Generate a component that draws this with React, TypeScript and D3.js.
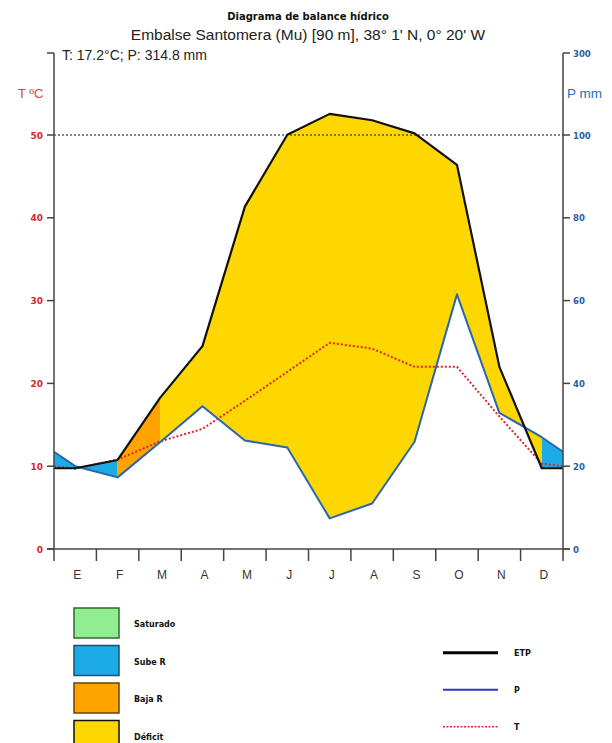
import React from "react";
import * as d3 from "d3";

const months = ["E", "F", "M", "A", "M", "J", "J", "A", "S", "O", "N", "D"];
const etp = [19.5, 21.5, 36.5, 49.0, 82.7, 100.5, 151.5, 136.0, 104.0, 92.8, 44.0, 19.5];
const precip = [20.0, 17.3, 25.8, 34.5, 26.2, 24.5, 7.4, 11.0, 25.9, 61.5, 32.9, 27.0];
const temp = [9.7, 10.8, 13.0, 14.5, 17.9, 21.4, 24.9, 24.2, 22.0, 22.0, 16.0, 10.3];
const monthStatus = [
  "Sube R", "Baja R", "Déficit", "Déficit", "Déficit", "Déficit",
  "Déficit", "Déficit", "Déficit", "Déficit", "Déficit", "Sube R",
];
const tempTicks = [0, 10, 20, 30, 40, 50];
const precipTicks = [0, 20, 40, 60, 80, 100, 300];
const legendAreas = ["Saturado", "Sube R", "Baja R", "Déficit"];
const legendLines = ["ETP", "P", "T"];

const areaColors: Record<string, string> = {
  Saturado: "#90EE90",
  "Sube R": "#1BACE8",
  "Baja R": "#FFA300",
  "Déficit": "#FFD700",
};
const areaBorders: Record<string, string> = {
  Saturado: "#2E6B2E",
  "Sube R": "#1B4F7A",
  "Baja R": "#6B4300",
  "Déficit": "#111",
};

const L = 54, R = 563, B = 549, TOP = 53;

export default function App() {
  const x = d3.scaleLinear().domain([0, 12]).range([L, R]);
  const yP = d3.scaleLinear().domain([0, 100, 300]).range([B, 135, TOP]);
  const yT = d3.scaleLinear().domain([0, 50]).range([B, 135]);

  const avg = (a: number[]) => (a[11] + a[0]) / 2;
  const pts = [
    { x: x(0), e: avg(etp), p: avg(precip), t: avg(temp) },
    ...months.map((_, i) => ({ x: x(i + 0.5), e: etp[i], p: precip[i], t: temp[i] })),
    { x: x(12), e: avg(etp), p: avg(precip), t: avg(temp) },
  ];
  type Pt = (typeof pts)[number];

  const area = d3
    .area<Pt>()
    .x((d) => d.x)
    .y0((d) => yP(d.p))
    .y1((d) => yP(d.e));
  const lineE = d3.line<Pt>().x((d) => d.x).y((d) => yP(d.e));
  const lineP = d3.line<Pt>().x((d) => d.x).y((d) => yP(d.p));
  const lineT = d3.line<Pt>().x((d) => d.x).y((d) => yT(d.t));

  // group consecutive segments with the same status into one area
  const runs: { start: number; end: number; status: string }[] = [];
  for (let k = 0; k < pts.length - 1; k++) {
    const st = monthStatus[(k - 1 + 12) % 12];
    const last = runs[runs.length - 1];
    if (last && last.status === st) last.end = k + 1;
    else runs.push({ start: k, end: k + 1, status: st });
  }

  const axisColor = "#444";
  const red = "#D8262A";
  const blue = "#1F5FA8";
  const small = { fontFamily: "DejaVu Sans", fontWeight: "bold" as const };

  return (
    <svg width={612} height={743} style={{ position: "absolute", left: 0, top: 0 }}>
      <rect width={612} height={743} fill="#fff" />
      {/* titles */}
      <text x={308} y={20} textAnchor="middle" fontSize={10} {...small} fill="#111">
        Diagrama de balance hídrico
      </text>
      <text x={308} y={40} textAnchor="middle" fontSize={15.5} fontFamily="Liberation Sans" fill="#222">
        Embalse Santomera (Mu) [90 m], 38° 1' N, 0° 20' W
      </text>
      <text x={62} y={59.5} fontSize={14} fontFamily="Liberation Sans" fill="#222">
        T: 17.2°C; P: 314.8 mm
      </text>
      <text x={18} y={98} fontSize={13} fontFamily="Liberation Sans" fill="#E04040">
        T ºC
      </text>
      <text x={567} y={98} fontSize={13.5} fontFamily="Liberation Sans" fill="#2A6EC0">
        P mm
      </text>

      {/* fills */}
      {runs.map((r, i) => (
        <path
          key={i}
          d={area(pts.slice(r.start, r.end + 1)) || ""}
          fill={areaColors[r.status]}
          stroke="none"
        />
      ))}

      {/* 50 / 100 line */}
      <line x1={L} x2={R} y1={yT(50)} y2={yT(50)} stroke="#111" strokeWidth={1} strokeDasharray="2,2" />

      {/* lines */}
      <path d={lineT(pts) || ""} fill="none" stroke="#E0242C" strokeWidth={2} strokeDasharray="2,2" />
      <path d={lineP(pts) || ""} fill="none" stroke="#2A66B0" strokeWidth={2} strokeLinejoin="round" />
      <path d={lineE(pts) || ""} fill="none" stroke="#111" strokeWidth={2.2} strokeLinejoin="round" />

      {/* axes */}
      <line x1={L} x2={L} y1={TOP} y2={B + 12} stroke={axisColor} strokeWidth={1.5} />
      <line x1={R} x2={R} y1={TOP} y2={B + 12} stroke={axisColor} strokeWidth={1.5} />
      <line x1={L - 7} x2={L} y1={TOP} y2={TOP} stroke={axisColor} strokeWidth={1.5} />
      <line x1={L - 7} x2={R + 7} y1={B} y2={B} stroke={axisColor} strokeWidth={1.5} />
      {d3.range(1, 12).map((i) => (
        <line key={i} x1={x(i)} x2={x(i)} y1={B} y2={B + 12} stroke={axisColor} strokeWidth={1.5} />
      ))}
      {months.map((m, i) => (
        <text key={i} x={x(i + 0.5) + 2} y={579} textAnchor="middle" fontSize={12} fontFamily="Liberation Sans" fill="#333">
          {m}
        </text>
      ))}
      {tempTicks.map((t) => (
        <g key={t}>
          <line x1={L - 7} x2={L} y1={yT(t)} y2={yT(t)} stroke={axisColor} strokeWidth={1.5} />
          <text x={43} y={yT(t) + 3.5} textAnchor="end" fontSize={9} {...small} fill={red}>
            {t}
          </text>
        </g>
      ))}
      {precipTicks.map((p) => (
        <g key={p}>
          <line x1={R} x2={R + 7} y1={yP(p)} y2={yP(p)} stroke={axisColor} strokeWidth={1.5} />
          <text x={573} y={yP(p) + 3.5} fontSize={8.5} {...small} fill={blue}>
            {p}
          </text>
        </g>
      ))}

      {/* legend */}
      {legendAreas.map((n, i) => (
        <g key={n}>
          <rect x={74} y={608 + i * 37.5} width={45} height={30} fill={areaColors[n]} stroke={areaBorders[n]} strokeWidth={1.5} />
          <text x={134} y={627 + i * 37.5} fontSize={8} {...small} fill="#111">
            {n}
          </text>
        </g>
      ))}
      {legendLines.map((n, i) => {
        const y = 652.7 + i * 37;
        return (
          <g key={n}>
            {n === "ETP" && <line x1={443} x2={498} y1={y} y2={y} stroke="#000" strokeWidth={3} />}
            {n === "P" && <line x1={443} x2={498} y1={y} y2={y} stroke="#3535C0" strokeWidth={2} />}
            {n === "T" && <line x1={443} x2={498} y1={y} y2={y} stroke="#E0242C" strokeWidth={1.5} strokeDasharray="2,1.5" />}
            <text x={514} y={y + 3} fontSize={8} {...small} fill="#111">
              {n}
            </text>
          </g>
        );
      })}
    </svg>
  );
}
